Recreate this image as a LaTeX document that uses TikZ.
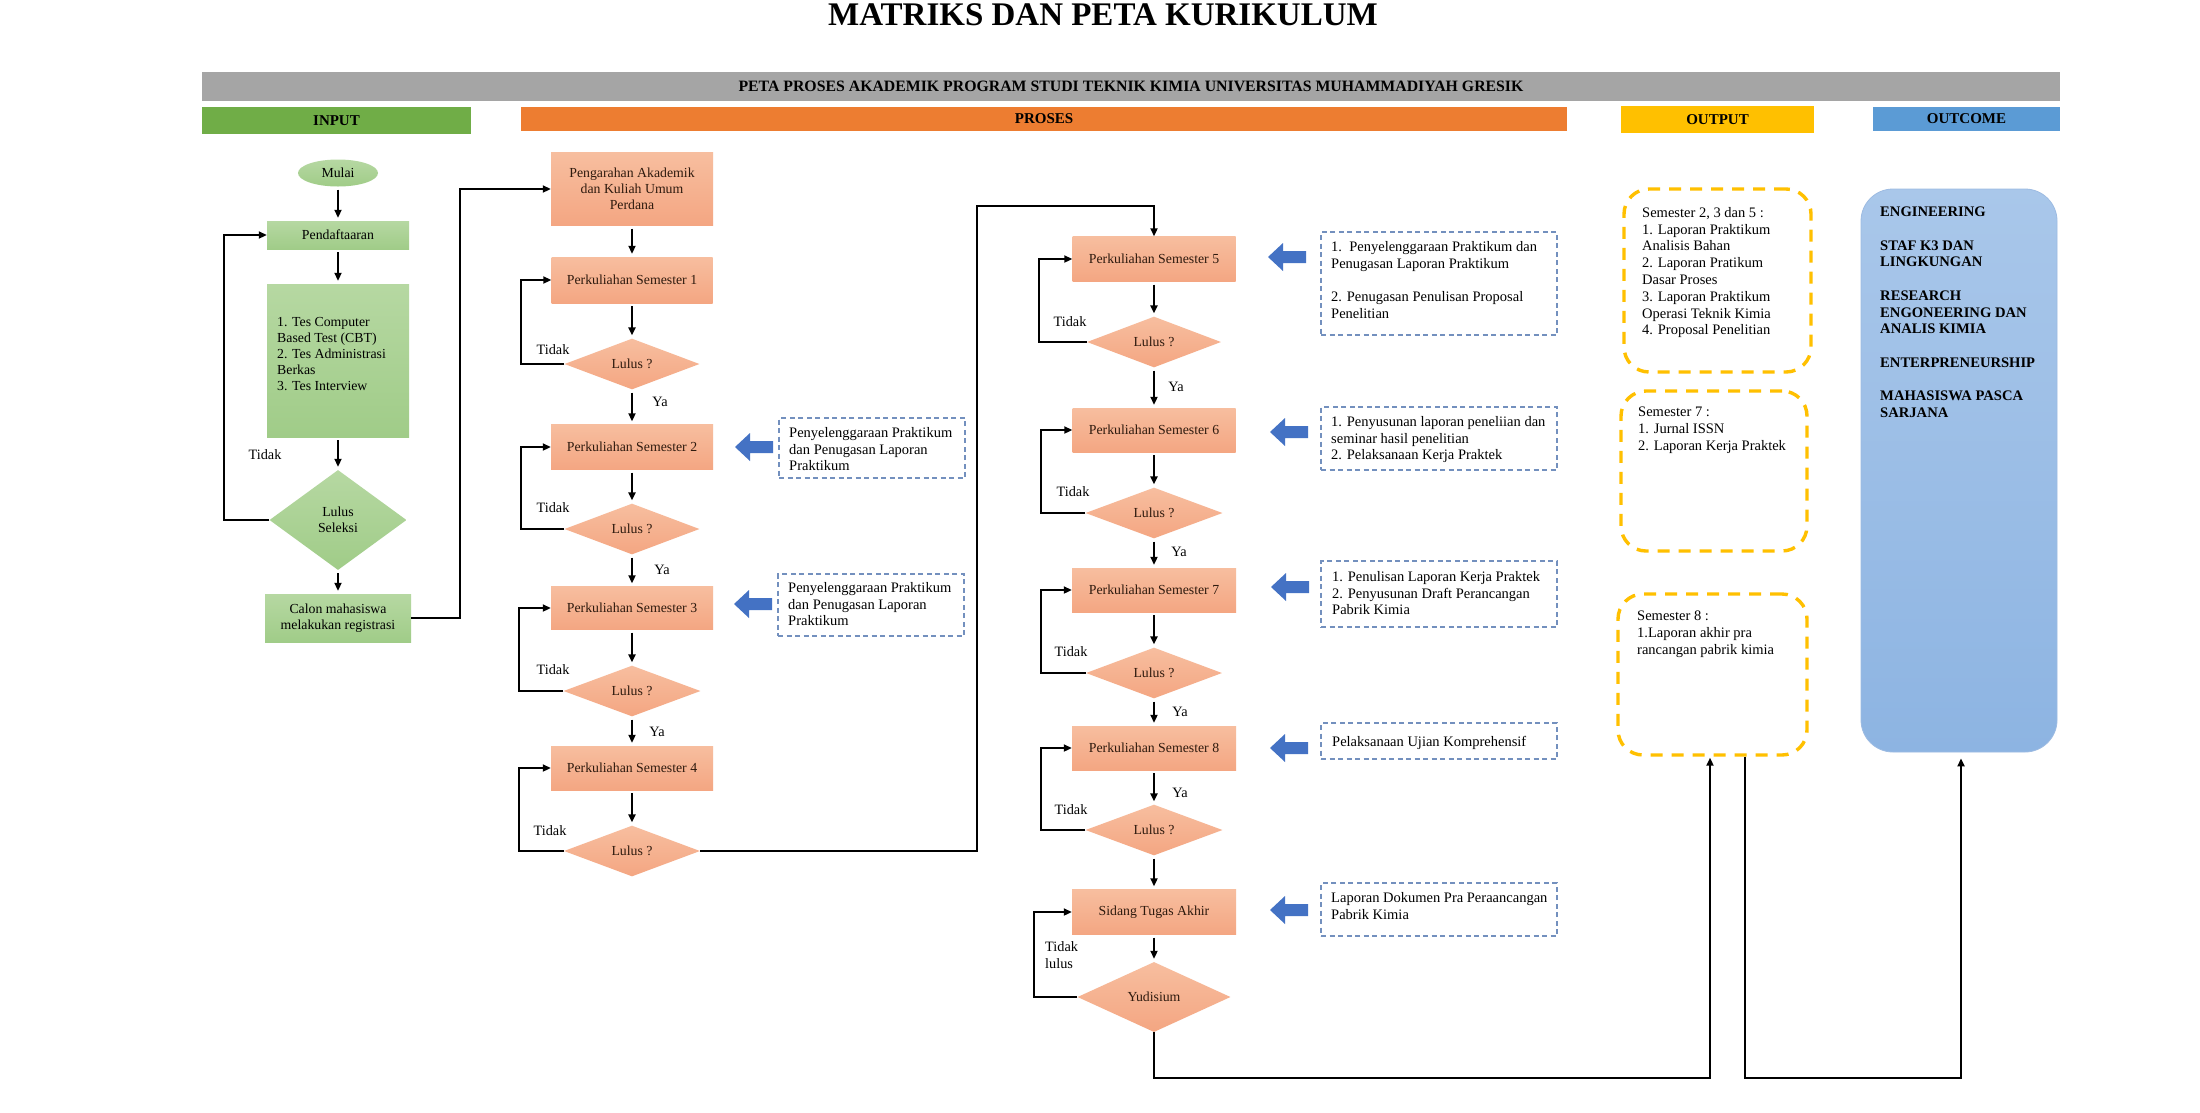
\documentclass[tikz,border=0pt]{standalone}
\usepackage{fontspec}
\setmainfont{Liberation Serif}
\usetikzlibrary{shapes.geometric,arrows.meta,calc}
\definecolor{greyH}{HTML}{A5A5A5}
\definecolor{greenH}{HTML}{70AD47}
\definecolor{orangeH}{HTML}{ED7D31}
\definecolor{yellowH}{HTML}{FFC000}
\definecolor{blueH}{HTML}{5B9BD5}
\definecolor{orT}{HTML}{F7BE9F}
\definecolor{orB}{HTML}{F4A682}
\definecolor{grT}{HTML}{B6D8A2}
\definecolor{grB}{HTML}{A0CC88}
\definecolor{brownT}{HTML}{2E1A0E}
\definecolor{noteC}{HTML}{7390BE}
\definecolor{blueA}{HTML}{4472C4}
\definecolor{ocT}{HTML}{A9C7EA}
\definecolor{ocB}{HTML}{8DB4E2}
\definecolor{ocD}{HTML}{9DBBE2}
\tikzset{
  boxfont/.style={font=\fontsize{13.8}{16}\selectfont},
  obox/.style={boxfont, rectangle, inner sep=0pt, top color=orT, bottom color=orB, text=brownT, align=center},
  odia/.style={boxfont, diamond, inner sep=0pt, top color=orT, bottom color=orB, text=brownT, align=center},
  gbox/.style={boxfont, rectangle, inner sep=0pt, top color=grT, bottom color=grB, text=black, align=center},
  notebox/.style={draw=noteC, line width=1.2pt, dash pattern=on 5pt off 3.5pt, inner sep=0pt},
  outb/.style={draw=yellowH, line width=3.4pt, dash pattern=on 12pt off 9pt, rounded corners=25pt, inner sep=0pt},
  conn/.style={line width=1.9pt, -{Triangle[length=8pt,width=7pt]}},
  vconn/.style={conn, shorten <=3pt, shorten >=3pt},
  lbl/.style={font=\fontsize{14.3}{16.5}\selectfont, inner sep=0pt},
  txt/.style={font=\fontsize{14.5}{16.8}\selectfont, inner sep=0pt, align=left, anchor=north west},
  hdr/.style={font=\bfseries\fontsize{15}{17}\selectfont, inner sep=0pt},
  barrow/.pic={\fill[blueA] (0,0) -- (15,-14) -- (15,-6) -- (38,-6) -- (38,6) -- (15,6) -- (15,14) -- cycle;}
}
\begin{document}
\begin{tikzpicture}[x=1pt,y=-1pt]
\useasboundingbox (0,0) rectangle (2200,1112);
\fill[white] (0,0) rectangle (2200,1112);

% title and headers
\node[font=\bfseries\fontsize{33}{36}\selectfont, inner sep=0pt] (title) at (1103,15) {MATRIKS DAN PETA KURIKULUM};
\node[hdr, font=\bfseries\fontsize{15.8}{18}\selectfont, fill=greyH, minimum width=1858pt, minimum height=29pt] (bar) at (1131,86.5) {PETA PROSES AKADEMIK PROGRAM STUDI TEKNIK KIMIA UNIVERSITAS MUHAMMADIYAH GRESIK};
\node[hdr, fill=greenH, minimum width=269pt, minimum height=27pt] (hin) at (336.5,120.5) {INPUT};
\node[hdr, fill=orangeH, minimum width=1046pt, minimum height=24pt] (hpro) at (1044,119) {PROSES};
\node[hdr, fill=yellowH, minimum width=193pt, minimum height=27pt] (hout) at (1717.5,119.5) {OUTPUT};
\node[hdr, fill=blueH, minimum width=187pt, minimum height=24pt] (houtc) at (1966.5,119) {OUTCOME};

% INPUT column
\node[gbox, ellipse, minimum width=80pt, minimum height=27pt] (mulai) at (338,173) {Mulai};
\node[gbox, minimum width=142pt, minimum height=28pt] (daftar) at (338,235) {Pendaftaaran};
\node[gbox, minimum width=142pt, minimum height=153pt] (tes) at (338,360.5) {};
\node[txt, font=\fontsize{13.8}{16}\selectfont] (testxt) at (277,317) {1. Tes Computer\\Based Test (CBT)\\2. Tes Administrasi\\Berkas\\3. Tes Interview};
\node[gbox, diamond, minimum width=137pt, minimum height=100pt] (lsel) at (338,520) {Lulus\\Seleksi};
\node[gbox, minimum width=146pt, minimum height=48pt] (calon) at (338,618) {Calon mahasiswa\\melakukan registrasi};
\node[lbl] (tdk0) at (265,455) {Tidak};

\draw[vconn] (mulai) -- (daftar);
\draw[vconn] (daftar) -- (tes);
\draw[vconn] (tes) -- (lsel);
\draw[vconn] (lsel) -- (calon);
\draw[conn] (lsel.west) -- ++(-45,0) |- (daftar.west);

% PROSES left column
\node[obox, minimum width=162pt, minimum height=73pt] (peng) at (632,189) {Pengarahan Akademik\\dan Kuliah Umum\\Perdana};
\node[obox, minimum width=161pt, minimum height=46pt] (s1) at (632,280) {Perkuliahan Semester 1};
\node[odia, minimum width=135pt, minimum height=50pt] (d1) at (632,364) {Lulus ?};
\node[obox, minimum width=162pt, minimum height=45pt] (s2) at (632,447) {Perkuliahan Semester 2};
\node[odia, minimum width=135pt, minimum height=50pt] (d2) at (632,529) {Lulus ?};
\node[obox, minimum width=162pt, minimum height=43pt] (s3) at (632,608) {Perkuliahan Semester 3};
\node[odia, minimum width=137pt, minimum height=50pt] (d3) at (632,691) {Lulus ?};
\node[obox, minimum width=162pt, minimum height=44pt] (s4) at (632,768) {Perkuliahan Semester 4};
\node[odia, minimum width=136pt, minimum height=50pt] (d4) at (632,851) {Lulus ?};

\draw[conn] (calon.east) -- ++(49,0) |- (peng.west);
\draw[vconn] (peng) -- (s1);
\draw[vconn] (s1) -- (d1);
\draw[vconn] (d1) -- (s2);
\draw[vconn] (s2) -- (d2);
\draw[vconn] (d2) -- (s3);
\draw[vconn] (s3) -- (d3);
\draw[vconn] (d3) -- (s4);
\draw[vconn] (s4) -- (d4);
\draw[conn] (d1.west) -- ++(-43,0) |- (s1.west);
\draw[conn] (d2.west) -- ++(-43,0) |- (s2.west);
\draw[conn] (d3.west) -- ++(-44,0) |- (s3.west);
\draw[conn] (d4.west) -- ++(-45,0) |- (s4.west);

\node[lbl] (t1) at (553,350) {Tidak};
\node[lbl] (t2) at (553,508) {Tidak};
\node[lbl] (t3) at (553,670) {Tidak};
\node[lbl] (t4) at (550,831) {Tidak};
\node[lbl] (y1) at (660,402) {Ya};
\node[lbl] (y2) at (662,570) {Ya};
\node[lbl] (y3) at (657,732) {Ya};

\node[notebox, minimum width=186pt, minimum height=60pt] (n2) at (872,448) {};
\node[txt] (n2t) at (789,427) {Penyelenggaraan Praktikum\\dan Penugasan Laporan\\Praktikum};
\pic at (735,447) {barrow};
\node[notebox, minimum width=186pt, minimum height=62pt] (n3) at (871,605) {};
\node[txt] (n3t) at (788,582) {Penyelenggaraan Praktikum\\dan Penugasan Laporan\\Praktikum};
\pic at (734,604) {barrow};

% PROSES right column
\node[obox, minimum width=163pt, minimum height=45pt] (s5) at (1154,259) {Perkuliahan Semester 5};
\node[odia, minimum width=134pt, minimum height=49pt] (d5) at (1154,342) {Lulus ?};
\node[obox, minimum width=163pt, minimum height=44pt] (s6) at (1154,430) {Perkuliahan Semester 6};
\node[odia, minimum width=137pt, minimum height=49pt] (d6) at (1154,513) {Lulus ?};
\node[obox, minimum width=164pt, minimum height=44pt] (s7) at (1154,590) {Perkuliahan Semester 7};
\node[odia, minimum width=136pt, minimum height=50pt] (d7) at (1154,673) {Lulus ?};
\node[obox, minimum width=164pt, minimum height=44pt] (s8) at (1154,748) {Perkuliahan Semester 8};
\node[odia, minimum width=137pt, minimum height=50pt] (d8) at (1154,830) {Lulus ?};
\node[obox, minimum width=164pt, minimum height=45pt] (sid) at (1154,912) {Sidang Tugas Akhir};
\node[odia, minimum width=153pt, minimum height=70pt] (yud) at (1154,997) {Yudisium};

\coordinate (j1) at (977,206);
\draw[conn] (d4.east) -| (j1) -| (s5.north);
\draw[vconn] (s5) -- (d5);
\draw[vconn] (d5) -- (s6);
\draw[vconn] (s6) -- (d6);
\draw[vconn] (d6) -- (s7);
\draw[vconn] (s7) -- (d7);
\draw[vconn] (d7) -- (s8);
\draw[vconn] (s8) -- (d8);
\draw[vconn] (d8) -- (sid);
\draw[vconn] (sid) -- (yud);
\draw[conn] (d5.west) -- ++(-48,0) |- (s5.west);
\draw[conn] (d6.west) -- ++(-44,0) |- (s6.west);
\draw[conn] (d7.west) -- ++(-45,0) |- (s7.west);
\draw[conn] (d8.west) -- ++(-44,0) |- (s8.west);
\draw[conn] (yud.west) -- ++(-43,0) |- (sid.west);

\node[lbl] (t5) at (1070,322) {Tidak};
\node[lbl] (t6) at (1073,492) {Tidak};
\node[lbl] (t7) at (1071,652) {Tidak};
\node[lbl] (t8) at (1071,810) {Tidak};
\node[lbl, align=left, anchor=west] (t9) at (1045,955) {Tidak\\lulus};
\node[lbl] (y5) at (1176,387) {Ya};
\node[lbl] (y6) at (1179,552) {Ya};
\node[lbl] (y7) at (1180,712) {Ya};
\node[lbl] (y8) at (1180,793) {Ya};

\node[notebox, minimum width=236pt, minimum height=103pt] (n5) at (1439,283.5) {};
\node[txt] (n5t) at (1331,241) {1.\ \ Penyelenggaraan Praktikum dan\\Penugasan Laporan Praktikum\\[16.8pt]2. Penugasan Penulisan Proposal\\Penelitian};
\pic at (1268,257) {barrow};
\node[notebox, minimum width=236pt, minimum height=63pt] (n6) at (1439,438.5) {};
\node[txt] (n6t) at (1331,416) {1. Penyusunan laporan peneliian dan\\seminar hasil penelitian\\2. Pelaksanaan Kerja Praktek};
\pic at (1270,432) {barrow};
\node[notebox, minimum width=236pt, minimum height=66pt] (n7) at (1439,594) {};
\node[txt] (n7t) at (1332,571) {1. Penulisan Laporan Kerja Praktek\\2. Penyusunan Draft Perancangan\\Pabrik Kimia};
\pic at (1271,587) {barrow};
\node[notebox, minimum width=236pt, minimum height=36pt] (n8) at (1439,741) {};
\node[txt] (n8t) at (1332,736) {Pelaksanaan Ujian Komprehensif};
\pic at (1270,748) {barrow};
\node[notebox, minimum width=236pt, minimum height=53pt] (n9) at (1439,909.5) {};
\node[txt] (n9t) at (1331,892) {Laporan Dokumen Pra Peraancangan\\Pabrik Kimia};
\pic at (1270,910) {barrow};

% OUTPUT column
\node[outb, minimum width=187pt, minimum height=183pt] (out1) at (1717.5,280.5) {};
\node[txt] (out1t) at (1642,207) {Semester 2, 3 dan 5 :\\1. Laporan Praktikum\\Analisis Bahan\\2. Laporan Pratikum\\Dasar Proses\\3. Laporan Praktikum\\Operasi Teknik Kimia\\4. Proposal Penelitian};
\node[outb, minimum width=186pt, minimum height=160pt] (out2) at (1714,471) {};
\node[txt] (out2t) at (1638,407) {Semester 7 :\\1. Jurnal ISSN\\2. Laporan Kerja Praktek};
\node[outb, minimum width=189pt, minimum height=161pt] (out3) at (1712.5,674.5) {};
\node[txt] (out3t) at (1637,611) {Semester 8 :\\1.Laporan akhir pra\\rancangan pabrik kimia};

% OUTCOME column
\node[draw=ocD, line width=0.8pt, rounded corners=32pt, top color=ocT, bottom color=ocB, minimum width=196pt, minimum height=563pt, inner sep=0pt] (outc) at (1959,470.5) {};
\node[txt, font=\bfseries\fontsize{14.6}{16.7}\selectfont] (outct) at (1880,207) {ENGINEERING\\[16.7pt]STAF K3 DAN\\LINGKUNGAN\\[16.7pt]RESEARCH\\ENGONEERING DAN\\ANALIS KIMIA\\[16.7pt]ENTERPRENEURSHIP\\[16.7pt]MAHASISWA PASCA\\SARJANA};

% bottom connectors
\coordinate (c1) at (1710,1078);
\coordinate (c2) at (1745,1078);
\coordinate (c3) at (1961,1078);
\draw[conn, shorten >=1pt] (yud.south) |- (c1) -- (c1 |- out3.south);
\draw[conn, shorten >=6pt] (c2 |- out3.south) -- (c2) -- (c3) -- (c3 |- outc.south);
\end{tikzpicture}
\end{document}
